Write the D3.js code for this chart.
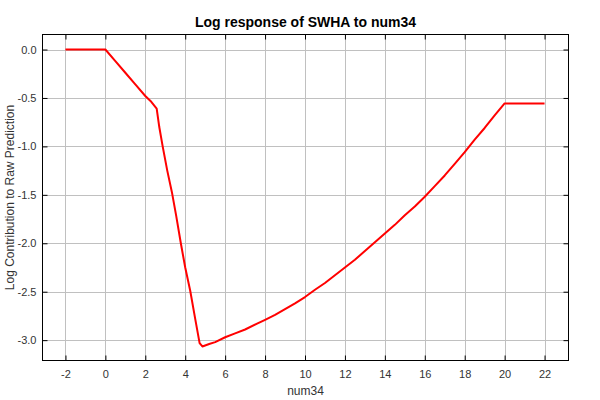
<!DOCTYPE html>
<html>
<head>
<meta charset="utf-8">
<script src="https://cdn.jsdelivr.net/npm/d3@7"></script>
<style>
  html, body { margin: 0; padding: 0; background: #fff; }
  svg { display: block; }
  text { font-family: "Liberation Sans", Arial, sans-serif; }
</style>
</head>
<body>
<svg id="chart" width="600" height="400"></svg>
<script>
// ---- data ----
const xValues = [-2, -1, 0, 0.5, 1, 1.5, 2, 2.3, 2.57, 2.7, 2.87, 3.1, 3.33, 3.55, 3.78, 4.0, 4.25, 4.5, 4.72, 4.86, 5.2, 5.5, 6, 6.5, 7, 7.6, 8, 8.5, 9, 9.5, 10, 10.5, 11, 11.5, 12, 12.5, 13, 13.5, 14, 14.5, 15, 15.5, 16, 16.5, 17, 17.5, 18, 18.5, 19, 19.5, 20, 21, 22];
const yValues = [0, 0, 0, -0.12, -0.24, -0.36, -0.48, -0.54, -0.61, -0.8, -1.0, -1.25, -1.47, -1.72, -2.0, -2.25, -2.49, -2.78, -3.03, -3.065, -3.04, -3.02, -2.97, -2.93, -2.89, -2.83, -2.79, -2.74, -2.68, -2.62, -2.555, -2.48, -2.41, -2.33, -2.25, -2.17, -2.08, -1.99, -1.90, -1.81, -1.71, -1.62, -1.52, -1.41, -1.30, -1.18, -1.06, -0.93, -0.81, -0.68, -0.557, -0.557, -0.557];
const xTicks = [-2, 0, 2, 4, 6, 8, 10, 12, 14, 16, 18, 20, 22];
const yTicks = [0.0, -0.5, -1.0, -1.5, -2.0, -2.5, -3.0];
const titleText = "Log response of SWHA to num34";
const xLabel = "num34";
const yLabel = "Log Contribution to Raw Prediction";

// ---- layout ----
const svg = d3.select("#chart");
const pLeft = 42.5, pRight = 568.5, pTop = 34.5, pBottom = 360.5;
const x = d3.scaleLinear().domain([-3.15, 23.2]).range([pLeft, pRight]);
const y = d3.scaleLinear().domain([-3.21, 0.155]).range([pBottom, pTop]);

svg.append("rect").attr("width", 600).attr("height", 400).attr("fill", "#fff");

// gridlines
const grid = svg.append("g");
grid.selectAll("line.gx").data(xTicks).enter().append("line")
  .attr("x1", d => Math.round(x(d)) + 0.5).attr("x2", d => Math.round(x(d)) + 0.5)
  .attr("y1", pTop).attr("y2", pBottom).attr("stroke", "#c0c0c0").attr("stroke-width", 1);
grid.selectAll("line.gy").data(yTicks).enter().append("line")
  .attr("y1", d => Math.round(y(d)) + 0.5).attr("y2", d => Math.round(y(d)) + 0.5)
  .attr("x1", pLeft).attr("x2", pRight).attr("stroke", "#c0c0c0").attr("stroke-width", 1);

// axes with inward ticks on all four sides
const fmt = d3.format(".1f");
const xAxisB = svg.append("g").attr("transform", `translate(0,${pBottom})`)
  .call(d3.axisBottom(x).tickValues(xTicks).tickSizeInner(-5).tickSizeOuter(0).tickPadding(10).tickFormat(d3.format("d")));
const xAxisT = svg.append("g").attr("transform", `translate(0,${pTop})`)
  .call(d3.axisTop(x).tickValues(xTicks).tickSizeInner(-5).tickSizeOuter(0).tickFormat(""));
const yAxisL = svg.append("g").attr("transform", `translate(${pLeft},0)`)
  .call(d3.axisLeft(y).tickValues(yTicks).tickSizeInner(-5).tickSizeOuter(0).tickPadding(6).tickFormat(d => fmt(d)));
const yAxisR = svg.append("g").attr("transform", `translate(${pRight},0)`)
  .call(d3.axisRight(y).tickValues(yTicks).tickSizeInner(-5).tickSizeOuter(0).tickFormat(""));
[xAxisB, xAxisT, yAxisL, yAxisR].forEach(g => {
  g.select(".domain").remove();
  g.selectAll(".tick line").attr("stroke", "#000");
  g.selectAll(".tick text").attr("fill", "#333").style("font-size", "11px")
    .style("font-family", "'Liberation Sans', Arial, sans-serif");
});
xAxisB.selectAll(".tick text").text(d => String(d).replace("−", "-"));
yAxisL.selectAll(".tick text").text(d => fmt(d).replace("−", "-"));

// plot border
svg.append("rect").attr("x", pLeft).attr("y", pTop).attr("width", pRight - pLeft).attr("height", pBottom - pTop)
  .attr("fill", "none").attr("stroke", "#000").attr("stroke-width", 1);

// data line
const pts = xValues.map((v, i) => [v, yValues[i]]);
svg.append("path").datum(pts)
  .attr("d", d3.line().x(d => x(d[0])).y(d => y(d[1])))
  .attr("fill", "none").attr("stroke", "#ff0000").attr("stroke-width", 2)
  .attr("stroke-linejoin", "round");

// title and labels
svg.append("text").attr("x", (pLeft + pRight) / 2).attr("y", 27).attr("text-anchor", "middle")
  .style("font-size", "14px").style("font-weight", "bold").attr("fill", "#000").text(titleText);
svg.append("text").attr("x", (pLeft + pRight) / 2).attr("y", 395).attr("text-anchor", "middle")
  .style("font-size", "12px").attr("fill", "#333").text(xLabel);
svg.append("text").attr("transform", `translate(14,${(pTop + pBottom) / 2}) rotate(-90)`)
  .attr("text-anchor", "middle").style("font-size", "12px").attr("fill", "#333").text(yLabel);
</script>
</body>
</html>
